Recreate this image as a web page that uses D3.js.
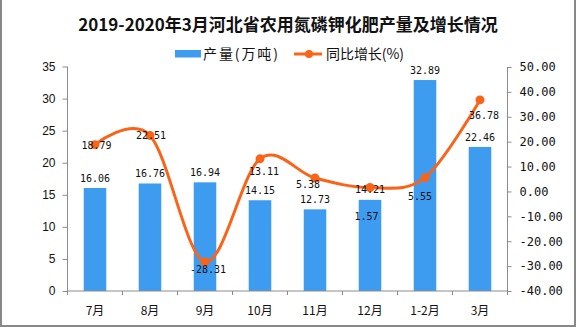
<!DOCTYPE html>
<html><head><meta charset="utf-8">
<script src="https://cdn.jsdelivr.net/npm/d3@7/dist/d3.min.js"></script>
<style>body{margin:0;background:#fff}svg{display:block}</style>
</head><body>
<script>
const categories = ["7月","8月","9月","10月","11月","12月","1-2月","3月"];
const production = [16.06,16.76,16.94,14.15,12.73,14.21,32.89,22.46];
const growth = [18.79,22.51,-28.31,13.11,5.38,1.57,5.55,36.78];
const leftTicks = [0,5,10,15,20,25,30,35];
const rightTicks = [-40,-30,-20,-10,0,10,20,30,40,50];
// label placement tweaks (layout only)
const growthLabelDx = [1.5,1,3,4,-7,-3.5,-5,4];
const growthLabelDy = [0.5,0,7,12.5,6.6,28.7,18.6,15];

const W=576,H=327;
const svg=d3.select("body").append("svg").attr("width",W).attr("height",H);
const barColor="#3e9cf0", lineColor="#fa6418", axisColor="#8c8c8c";
const monoFont="'DejaVu Sans Mono', monospace";
const cjk="'Noto Sans CJK SC','Noto Sans',sans-serif";

// border
svg.append("path").attr("d",`M1,0V${H-1}H${W-1}V0`).attr("fill","none").attr("stroke","#888").attr("stroke-width",2);

const x=d3.scaleBand().domain(categories).range([67.5,507.5]).padding(0);
const yL=d3.scaleLinear().domain([0,35]).range([291,66.5]);
const yR=d3.scaleLinear().domain([-40,50]).range([291,67]);

// title
svg.append("text").attr("x",288).attr("y",31).attr("text-anchor","middle")
  .attr("font-family",cjk).attr("font-weight","bold").attr("font-size",17).attr("fill","#111")
  .text("2019-2020年3月河北省农用氮磷钾化肥产量及增长情况");

// legend
svg.append("rect").attr("x",175).attr("y",50).attr("width",26).attr("height",7.5).attr("fill",barColor);
svg.append("text").attr("x",203).attr("y",59).attr("font-family",cjk).attr("font-size",14).attr("fill","#111")
  .attr("textLength",75).attr("lengthAdjust","spacing").text("产量(万吨)");
svg.append("line").attr("x1",294).attr("x2",322).attr("y1",54).attr("y2",54).attr("stroke",lineColor).attr("stroke-width",3);
svg.append("circle").attr("cx",309).attr("cy",54).attr("r",4).attr("fill",lineColor);
svg.append("text").attr("x",326).attr("y",59).attr("font-family",cjk).attr("font-size",14).attr("fill","#111")
  .attr("textLength",78).attr("lengthAdjust","spacing").text("同比增长(%)");

// bars
const bw=x.bandwidth()*0.41;
svg.append("g").selectAll("rect").data(production).join("rect")
  .attr("x",(d,i)=>x(categories[i])+x.bandwidth()/2-bw/2)
  .attr("y",d=>yL(d)).attr("width",bw).attr("height",d=>yL(0)-yL(d)).attr("fill",barColor);

// left axis
const gL=svg.append("g").attr("transform","translate(67.5,0)")
  .call(d3.axisLeft(yL).tickValues(leftTicks).tickSize(5).tickPadding(7).tickFormat(d3.format("d")));
gL.selectAll("path,line").attr("stroke",axisColor);
gL.select(".domain").attr("d",`M0,${yL(35)}V${yL(0)}`);
gL.selectAll("text").attr("font-family","'Liberation Sans',Arial,sans-serif").attr("font-size",12).attr("fill","#111");

// right axis
const gR=svg.append("g").attr("transform","translate(507.5,0)")
  .call(d3.axisRight(yR).tickValues(rightTicks).tickSize(4).tickPadding(8).tickFormat(d3.format(".2f")));
gR.selectAll("path,line").attr("stroke",axisColor);
gR.select(".domain").attr("d",`M0,${yR(50)}V${yR(-40)}`);
gR.selectAll("text").attr("font-family",monoFont).attr("font-size",12).attr("fill","#111").text(d=>d3.format(".2f")(d).replace("−","-"));

// bottom axis
const gB=svg.append("g").attr("transform",`translate(0,${yL(0)})`)
  .call(d3.axisBottom(x).tickSize(0).tickPadding(15));
gB.select(".domain").attr("stroke",axisColor).attr("d","M67.5,0H507.5");
gB.selectAll("text").attr("font-family",cjk).attr("font-size",12).attr("fill","#111");
gB.selectAll(".bt").data(d3.range(categories.length+1)).join("line")
  .attr("x1",i=>67.5+i*x.step()).attr("x2",i=>67.5+i*x.step()).attr("y1",0).attr("y2",4).attr("stroke",axisColor);

// line
const cx=(i)=>x(categories[i])+x.bandwidth()/2;
svg.append("path").datum(growth)
  .attr("d",d3.line().x((d,i)=>cx(i)).y(d=>yR(d)).curve(d3.curveCardinal.tension(0)))
  .attr("fill","none").attr("stroke",lineColor).attr("stroke-width",3);
svg.append("g").selectAll("circle").data(growth).join("circle")
  .attr("cx",(d,i)=>cx(i)).attr("cy",d=>yR(d)).attr("r",4.5).attr("fill",lineColor);

// bar labels
svg.append("g").selectAll("text").data(production).join("text")
  .attr("x",(d,i)=>cx(i)).attr("y",d=>yL(d)-6.4).attr("text-anchor","middle")
  .attr("font-family",monoFont).attr("font-size",10).attr("fill","#111").text(d=>d.toFixed(2));

// growth labels
svg.append("g").selectAll("text").data(growth).join("text")
  .attr("x",(d,i)=>cx(i)+growthLabelDx[i]).attr("y",(d,i)=>yR(d)+growthLabelDy[i]+3.7).attr("text-anchor","middle")
  .attr("font-family",monoFont).attr("font-size",10).attr("fill","#111").text(d=>d.toFixed(2));
</script>
</body></html>
